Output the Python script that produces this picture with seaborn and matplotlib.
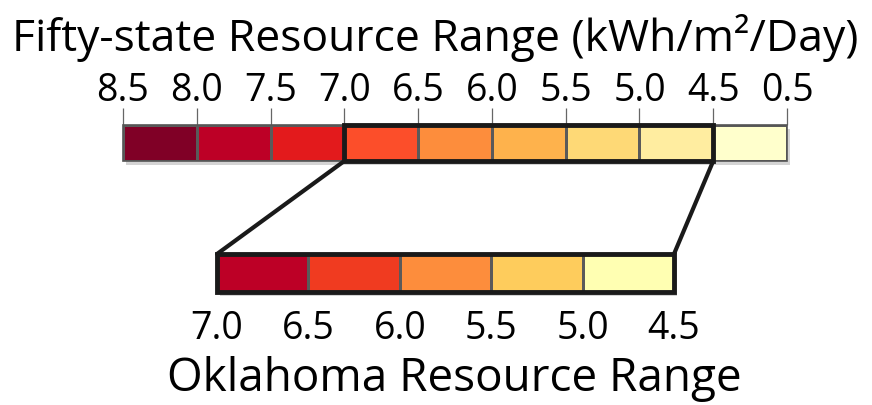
import numpy as np
import matplotlib.pyplot as plt
import seaborn as sns
from matplotlib.colors import ListedColormap
from matplotlib.patches import Rectangle, ConnectionPatch
import matplotlib.patheffects as pe

# Fifty-state bar: bin edges (kWh/m2/Day) and one colour per bin
us_ticks = ["8.5", "8.0", "7.5", "7.0", "6.5", "6.0", "5.5", "5.0", "4.5", "0.5"]
us_colors = ["#800026", "#bd0026", "#e31a1c", "#fc4e2a", "#fd8d3c",
             "#feb24c", "#fed976", "#ffeda0", "#ffffcc"]

# Oklahoma bar
ok_ticks = ["7.0", "6.5", "6.0", "5.5", "5.0", "4.5"]
ok_colors = ["#bd0026", "#f03b20", "#fd8d3c", "#fecc5c", "#ffffb2"]

# bins of the fifty-state bar that the Oklahoma range covers
ok_start, ok_end = 3, 8

sns.set_style("white")
plt.rcParams['font.family'] = ['Open Sans', 'DejaVu Sans']
plt.rcParams['text.color'] = 'black'
plt.rcParams['xtick.color'] = 'black'

fig = plt.figure(figsize=(8.72, 4.05), dpi=100)
W, H = 872, 405


def px_axes(x0, y0, x1, y1):
    return fig.add_axes([x0 / W, 1 - y1 / H, (x1 - x0) / W, (y1 - y0) / H])


ax_us = px_axes(123, 125, 787, 161)
ax_ok = px_axes(217, 254, 674, 292)

shadow = [pe.SimplePatchShadow(offset=(2, -3), shadow_rgbFace="0.45", alpha=0.3),
          pe.Normal()]


def strip(ax, colors, ticks, edge_lw, edge_color, pad):
    n = len(colors)
    # shadowed backing so the strip gets a soft drop shadow
    ax.add_patch(Rectangle((0, 0), n, 1, facecolor="white", edgecolor="none",
                           clip_on=False, zorder=0, path_effects=shadow))
    sns.heatmap(np.arange(n).reshape(1, -1), ax=ax,
                cmap=ListedColormap(colors), cbar=False,
                linewidths=0.8, linecolor="#5a5a5a")
    ax.set_xticks(np.arange(len(ticks)))
    ax.set_xticklabels(ticks, fontsize=27, rotation=0)
    ax.set_yticks([])
    ax.tick_params(axis="x", length=12, width=0.9, color="#666666", pad=pad)
    ax.add_patch(Rectangle((0, 0), n, 1, fill=False, lw=edge_lw,
                           edgecolor=edge_color, clip_on=False, zorder=5))


strip(ax_us, us_colors, us_ticks, 1.2, "#555555", pad=-1)
ax_us.xaxis.tick_top()
ax_us.add_patch(Rectangle((ok_start, 0), ok_end - ok_start, 1, fill=False,
                          lw=3.5, edgecolor="#1a1a1a", clip_on=False, zorder=6))

strip(ax_ok, ok_colors, ok_ticks, 3.5, "#1a1a1a", pad=1)

# zoom connector lines
for xa, xb in [(ok_start, 0), (ok_end, len(ok_colors))]:
    con = ConnectionPatch(xyA=(xa, 1), coordsA=ax_us.transData,
                          xyB=(xb, 0), coordsB=ax_ok.transData,
                          color="#1a1a1a", lw=3)
    fig.add_artist(con)

fig.text(12 / W, 1 - 38 / H, "Fifty-state Resource Range (kWh/m²/Day)",
         ha="left", va="center", fontsize=32)
fig.text(454 / W, 1 - 379 / H, "Oklahoma Resource Range",
         ha="center", va="center", fontsize=33)

fig.savefig("out.png", dpi=100)
